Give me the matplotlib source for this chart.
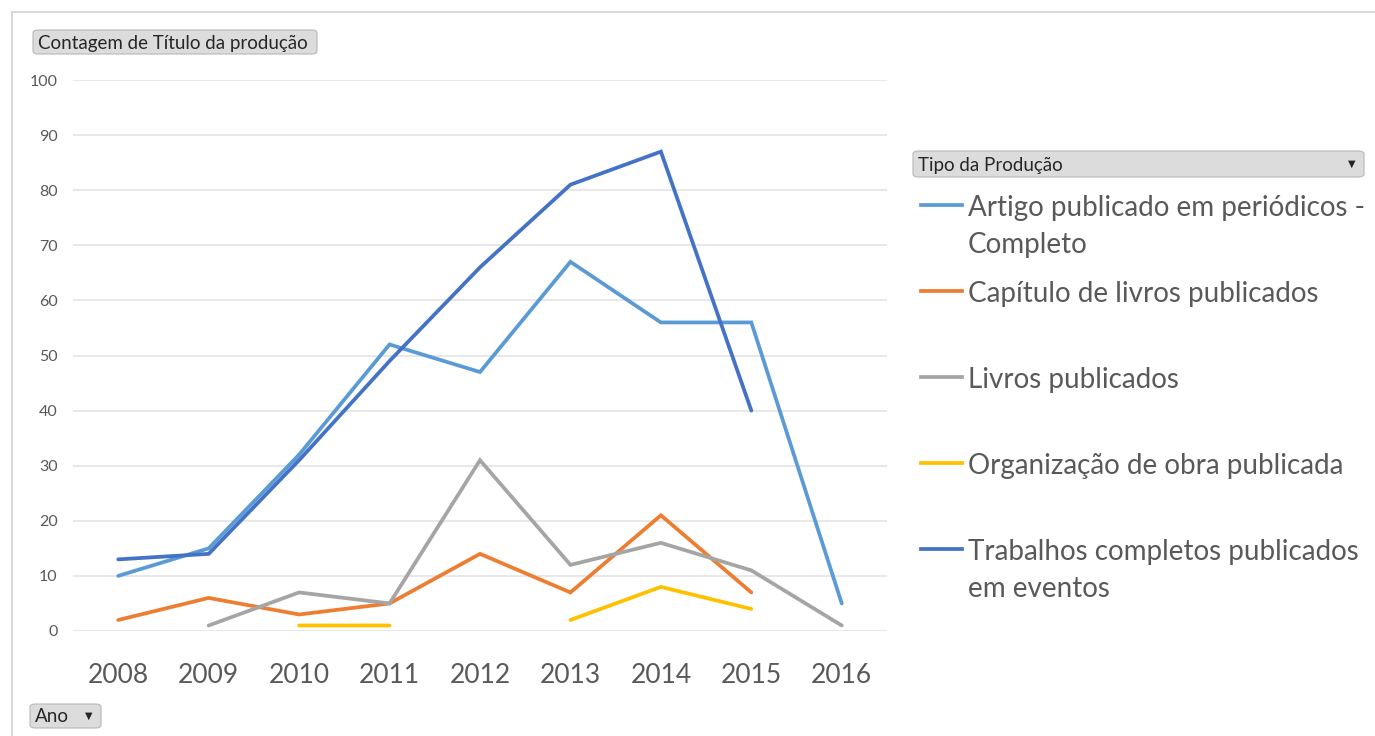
import numpy as np
import matplotlib
matplotlib.use("Agg")
import matplotlib.pyplot as plt
from matplotlib.patches import FancyBboxPatch
from matplotlib.lines import Line2D

nan = np.nan

anos = ["2008", "2009", "2010", "2011", "2012", "2013", "2014", "2015", "2016"]

artigo = [10, 15, 32, 52, 47, 67, 56, 56, 5]
capitulo = [2, 6, 3, 5, 14, 7, 21, 7, nan]
livros = [nan, 1, 7, 5, 31, 12, 16, 11, 1]
organizacao = [nan, nan, 1, 1, nan, 2, 8, 4, nan]
trabalhos = [13, 14, 31, 49, 66, 81, 87, 40, nan]

series = [
    ("Artigo publicado em periódicos -\nCompleto", artigo, "#5B9BD5"),
    ("Capítulo de livros publicados", capitulo, "#ED7D31"),
    ("Livros publicados", livros, "#A5A5A5"),
    ("Organização de obra publicada", organizacao, "#FFC000"),
    ("Trabalhos completos publicados\nem eventos", trabalhos, "#4472C4"),
]

yticks = list(range(0, 101, 10))

plt.rcParams["font.family"] = ["Lato", "DejaVu Sans"]
TXT = "#595959"

W, H = 1375, 736
fig = plt.figure(figsize=(W / 100, H / 100), dpi=100)

def fx(px):
    return px / W

def fy(py):
    return 1 - py / H

# borda do gráfico
fig.add_artist(Line2D([fx(12), fx(1375)], [fy(12), fy(12)], color="#d9d9d9", lw=1.5))
fig.add_artist(Line2D([fx(12), fx(12)], [fy(12), fy(736)], color="#d9d9d9", lw=1.5))

ax = fig.add_axes([fx(73), fy(631), fx(887 - 73), fy(80) - fy(631)])
x = np.arange(len(anos))
for nome, vals, cor in series:
    ax.plot(x, np.array(vals, dtype=float), color=cor, lw=2.7,
            solid_capstyle="round", solid_joinstyle="miter", zorder=3)

ax.set_xlim(-0.5, len(anos) - 0.5)
ax.set_ylim(0, 100)
ax.set_yticks(yticks)
ax.set_xticks(x)
ax.set_xticklabels(anos)
ax.grid(axis="y", color="#e6e6e6", lw=1.3)
ax.set_axisbelow(True)
for s in ax.spines.values():
    s.set_visible(False)
ax.tick_params(axis="both", length=0)
ax.tick_params(axis="y", labelsize=11.5, labelcolor=TXT, pad=11)
ax.tick_params(axis="x", labelsize=19, labelcolor=TXT, pad=23)


def botao(x0, y0, x1, y1, texto, seta=False, fs=13.5):
    fig.add_artist(FancyBboxPatch((fx(x0), fy(y1)), fx(x1 - x0), fy(y0) - fy(y1),
                                  boxstyle="round,pad=0,rounding_size=0.004",
                                  transform=fig.transFigure,
                                  facecolor="#dcdcdc", edgecolor="#b8b8b8", lw=0.8))
    fig.text(fx(x0 + 5), fy((y0 + y1) / 2 + 1), texto, fontsize=fs, color="#262626",
             va="center", ha="left")
    if seta:
        fig.text(fx(x1 - 12), fy((y0 + y1) / 2), "▼", fontsize=7, color="#262626",
                 va="center", ha="center", family="DejaVu Sans")


botao(33, 30, 317, 54, "Contagem de Título da produção")
botao(30, 704, 101, 728, "Ano", seta=True)
botao(913, 151, 1364, 177, "Tipo da Produção", seta=True)

# legenda
leg_y = [205, 291, 377, 463, 549]
for (nome, vals, cor), yy in zip(series, leg_y):
    fig.add_artist(Line2D([fx(921), fx(962)], [fy(yy), fy(yy)], color=cor, lw=2.7))
    for i, parte in enumerate(nome.split("\n")):
        fig.text(fx(968), fy(yy + 3 + 37 * i), parte, fontsize=20, color=TXT,
                 va="center", ha="left")

fig.savefig("out.png", dpi=100)
